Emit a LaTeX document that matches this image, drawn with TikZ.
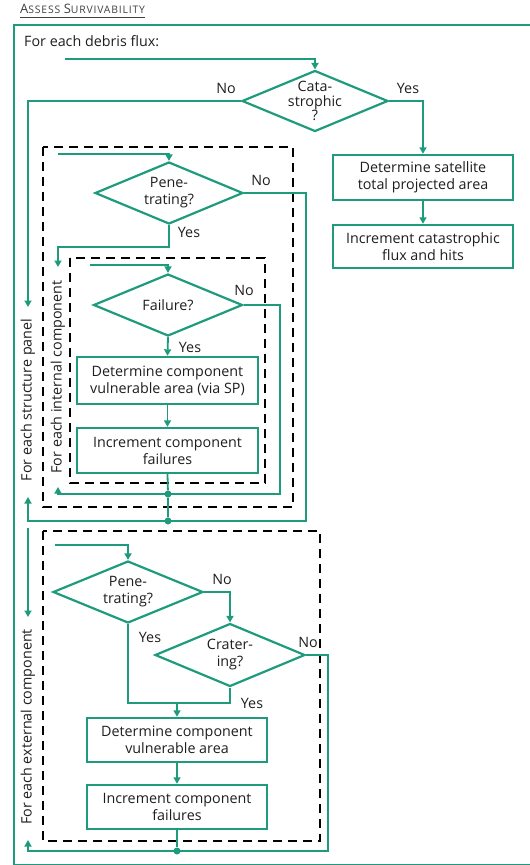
\documentclass[tikz,border=0pt]{standalone}
\usepackage{fontspec}
\setmainfont{Open Sans}
\usetikzlibrary{shapes.geometric,arrows.meta}
\definecolor{grn}{RGB}{30,155,125}
\definecolor{txt}{RGB}{30,30,30}
\newcommand\myfs{\fontsize{14.3}{17}\selectfont}
\newcommand\catfs{\fontsize{14.3}{14.5}\selectfont}
\begin{document}
\begin{tikzpicture}[x=1pt,y=-1pt,
  flow/.style={draw=grn, line width=1.8pt},
  arr/.style={flow, -{Triangle[length=6.5pt,width=7pt]}},
  box/.style={draw=grn, line width=2.4pt, align=center, inner sep=0pt, font=\myfs, text=txt},
  dia/.style={draw=grn, line width=2.2pt, diamond, align=center, inner sep=-14pt, font=\myfs, text=txt},
  lbl/.style={font=\myfs, inner sep=0pt, text=txt},
  loopbox/.style={draw=black, line width=2.2pt, dash pattern=on 9pt off 6pt},
  dot/.style={circle, fill=grn, inner sep=0pt, minimum size=7pt}
]
\useasboundingbox (0,0) rectangle (530,865);
% title
\node[anchor=west, inner sep=0pt, text=txt!85] (title) at (20,9)
 {\addfontfeature{LetterSpace=8}{\fontsize{13}{12}\selectfont A}{\fontsize{10.4}{10}\selectfont SSESS} {\fontsize{13}{12}\selectfont S}{\fontsize{10.4}{10}\selectfont URVIVABILITY}};
\draw[txt!85, line width=0.7pt] ([yshift=-3pt]title.south west) -- ([yshift=-3pt]title.south east);
% outer frame
\draw[grn, line width=2pt] (14,25) rectangle (531,864.5);
\node[lbl, anchor=west] (flux) at (24,41) {For each debris flux:};
% loop boxes
\draw[loopbox] (43,147) rectangle (293,507);
\draw[loopbox] (70,258) rectangle (265,483);
\draw[loopbox] (43,531) rectangle (320,841);
% nodes
\node[dia, minimum width=146pt, minimum height=61pt, font=\catfs] (cat) at (315,101) {Cata-\\strophic\\?};
\node[box, minimum width=180pt, minimum height=45pt] (sat) at (423,177.5) {Determine satellite\\total projected area};
\node[box, minimum width=180pt, minimum height=43pt] (catinc) at (423,246.5) {Increment catastrophic\\flux and hits};
\node[dia, minimum width=148pt, minimum height=62pt] (pen1) at (169,193) {Pene-\\trating?};
\node[dia, minimum width=149pt, minimum height=62pt] (fail) at (168,305) {Failure?};
\node[box, minimum width=181pt, minimum height=47pt] (int1) at (167.5,380.5) {Determine component\\vulnerable area (via SP)};
\node[box, minimum width=181pt, minimum height=45pt] (int2) at (167.5,450.5) {Increment component\\failures};
\node[dia, minimum width=150pt, minimum height=62pt] (pen2) at (128,592) {Pene-\\trating?};
\node[dia, minimum width=150pt, minimum height=63pt] (crat) at (230,655) {Crater-\\ing?};
\node[box, minimum width=180pt, minimum height=44pt] (ext1) at (177,740) {Determine component\\vulnerable area};
\node[box, minimum width=180pt, minimum height=44pt] (ext2) at (177,807) {Increment component\\failures};
\node[dot] (d1) at (168,494) {};
\node[dot] (d2) at (168,521) {};
\node[dot] (d3) at (177,851) {};
% rotated loop labels
\node[lbl, rotate=90] (lsp) at (28,400) {For each structure panel};
\node[lbl, rotate=90] (lic) at (58,377) {For each internal component};
\node[lbl, rotate=90] (lec) at (28,727) {For each external component};
% yes/no labels
\node[lbl] (n1) at (226,88) {No};
\node[lbl] (y1) at (408,88) {Yes};
\node[lbl] (n2) at (261,180) {No};
\node[lbl] (y2) at (189,232) {Yes};
\node[lbl] (n3) at (244,290) {No};
\node[lbl] (y3) at (190,347) {Yes};
\node[lbl] (n4) at (222,579) {No};
\node[lbl] (y4) at (150,637) {Yes};
\node[lbl] (n5) at (308,642) {No};
\node[lbl] (y5) at (252,703) {Yes};
% coordinates
\coordinate (s0) at (65,59);
\coordinate (spdown) at (28,307);
\coordinate (s1) at (58,154);
\coordinate (icdown) at (58,267);
\coordinate (s2) at (90,265);
\coordinate (r1) at (280,494);
\coordinate (icup) at (58,487);
\coordinate (icret) at (58,494);
\coordinate (r2) at (306,521);
\coordinate (spret) at (28,521);
\coordinate (spup) at (28,497);
\coordinate (ecstart) at (28,528);
\coordinate (ecdown) at (28,617);
\coordinate (s3) at (55,545);
\coordinate (pbend) at (169,247);
\coordinate (m1) at (128,703);
\coordinate (m2) at (230,703);
\coordinate (m3) at (177,703);
\coordinate (r3) at (328,851);
\coordinate (ecret) at (28,851);
\coordinate (ecup) at (28,840);
% connectors
\draw[arr] (s0) -| (cat.north);
\draw[arr] (cat.west) -| (spdown);
\draw[arr] (cat.east) -| (sat.north);
\draw[arr] (sat.south) -- (catinc.north);
\draw[arr] (s1) -| (pen1.north);
\draw[arr] (pen1.south) -- (pbend) -| (icdown);
\draw[arr] (s2) -| (fail.north);
\draw[arr] (fail.south) -- (int1.north);
\draw[arr] (int1.south) -- (int2.north);
\draw[flow] (int2.south) -- (d1) -- (d2);
\draw[arr] (fail.east) -| (r1) -- (icret) -- (icup);
\draw[arr] (pen1.east) -| (r2) -- (spret) -- (spup);
\draw[arr] (ecstart) -- (ecdown);
\draw[arr] (s3) -| (pen2.north);
\draw[arr] (pen2.east) -| (crat.north);
\draw[flow] (pen2.south) -- (m1) -- (m2) -- (crat.south);
\draw[arr] (m3) -- (ext1.north);
\draw[arr] (ext1.south) -- (ext2.north);
\draw[flow] (ext2.south) -- (d3);
\draw[arr] (crat.east) -| (r3) -- (ecret) -- (ecup);
\end{tikzpicture}
\end{document}
